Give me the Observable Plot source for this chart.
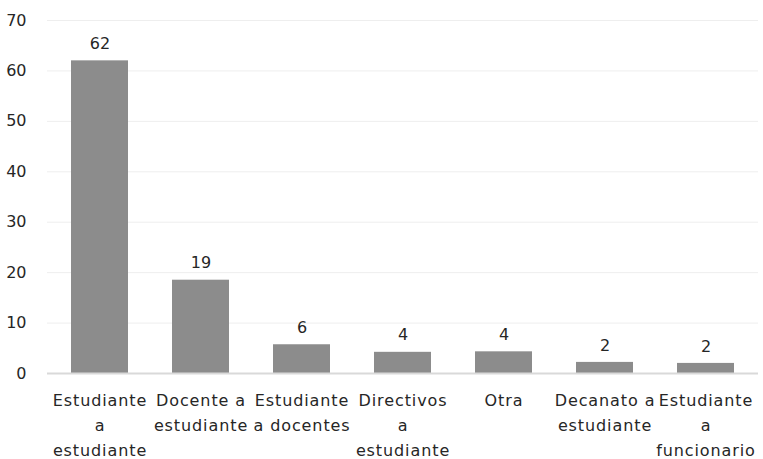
<!DOCTYPE html>
<html>
<head>
<meta charset="utf-8">
<script src="https://cdn.jsdelivr.net/npm/d3@7"></script>
<script src="https://cdn.jsdelivr.net/npm/@observablehq/plot@0.6"></script>
<style>
  html, body { margin: 0; padding: 0; background: #fff; }
  #chart { width: 763px; height: 459px; }
  g[aria-label="x-axis tick label"] text { letter-spacing: 0.9px; }
</style>
</head>
<body>
<div id="chart"></div>
<script>
const categories = [
  "Estudiante a estudiante",
  "Docente a estudiante",
  "Estudiante a docentes",
  "Directivos a estudiante",
  "Otra",
  "Decanato a estudiante",
  "Estudiante a funcionario"
];
const tickLabels = [
  "Estudiante\na\nestudiante",
  "Docente a\nestudiante",
  "Estudiante\na docentes",
  "Directivos\na\nestudiante",
  "Otra",
  "Decanato a\nestudiante",
  "Estudiante\na\nfuncionario"
];
const values = [62, 18.5, 5.7, 4.2, 4.3, 2.2, 2.0];
const valueLabels = ["62", "19", "6", "4", "4", "2", "2"];
const yTicks = [0, 10, 20, 30, 40, 50, 60, 70];

const data = categories.map((c, i) => ({cat: c, value: values[i], label: valueLabels[i]}));
const tickMap = new Map(categories.map((c, i) => [c, tickLabels[i]]));

const font = "'DejaVu Sans', sans-serif";

const chart = Plot.plot({
  width: 763,
  height: 459,
  marginLeft: 47,
  marginRight: 5,
  marginTop: 20,
  marginBottom: 86,
  style: {fontFamily: font, background: "#fff", color: "#262626"},
  x: {domain: categories, paddingInner: 0.44, paddingOuter: 0.22, label: null},
  y: {domain: [0, 70], ticks: yTicks, label: null},
  marks: [
    Plot.gridY(yTicks, {stroke: "#eeeeee", strokeOpacity: 1, strokeWidth: 1}),
    Plot.barY(data, {x: "cat", y: "value", fill: "#8c8c8c"}),
    Plot.ruleY([0], {stroke: "#d9d9d9", strokeWidth: 2}),
    Plot.text(data, {x: "cat", y: "value", text: "label", dy: -17, fontSize: 16, fill: "#262626"}),
    Plot.axisY(yTicks, {tickSize: 0, tickPadding: 21, fontSize: 16, fill: "#262626", label: null}),
    Plot.axisX({tickSize: 0, tickPadding: 15, fontSize: 16, lineHeight: 1.55, fill: "#262626", tickFormat: d => tickMap.get(d), label: null})
  ]
});
document.getElementById("chart").appendChild(chart);
</script>
</body>
</html>
